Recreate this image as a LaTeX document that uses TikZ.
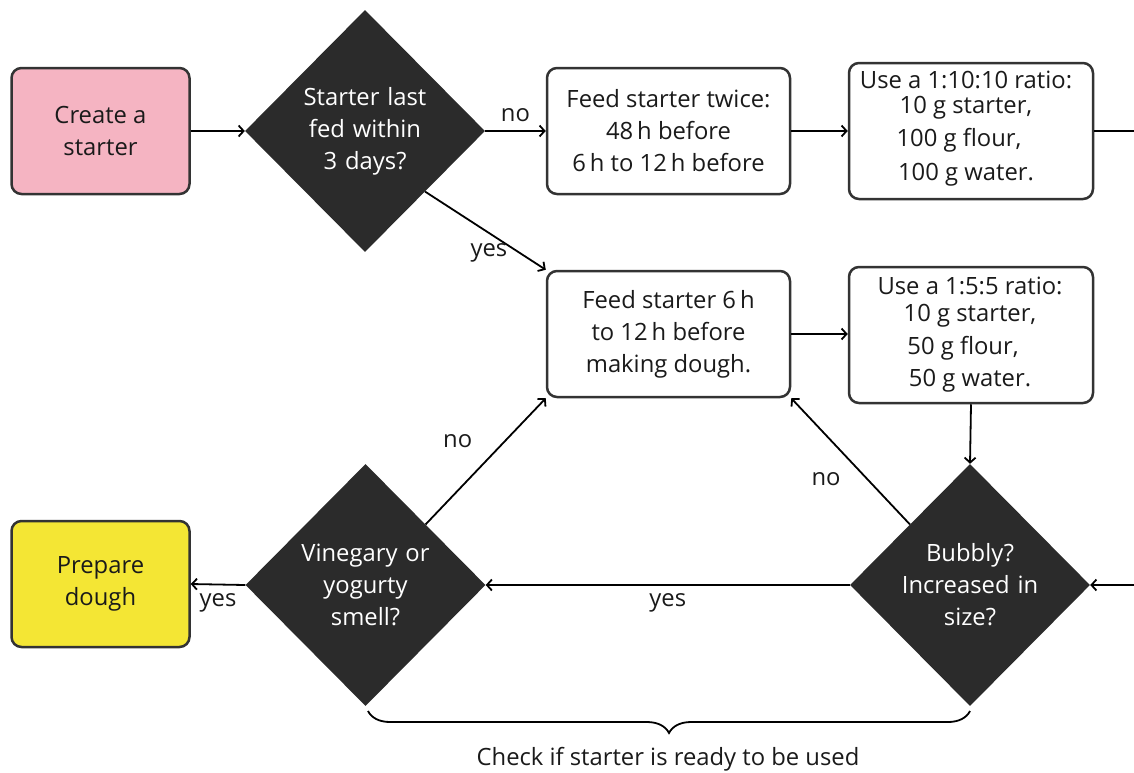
\documentclass[tikz,border=0pt]{standalone}
\usepackage{fontspec}
\setmainfont{Open Sans}
\usetikzlibrary{shapes.geometric,arrows.meta,decorations.pathreplacing}
\definecolor{boxc}{HTML}{333333}
\definecolor{dia}{HTML}{2B2B2B}
\definecolor{pinkc}{HTML}{F5B4C2}
\definecolor{yellc}{HTML}{F4E634}
\definecolor{txt}{HTML}{1A1A1A}
\newcommand\myfs{\fontsize{23.8}{32}\selectfont}
\begin{document}
\begin{tikzpicture}[x=1pt,y=-1pt,
  every node/.style={font=\myfs, text=txt},
  box/.style={draw=boxc, line width=2.5pt, rounded corners=10pt, fill=white,
    align=center, inner sep=0pt, minimum width=243pt, minimum height=126pt},
  sbox/.style={box, minimum width=178pt, minimum height=126pt},
  dec/.style={diamond, fill=dia, text=white, align=center, inner sep=0pt,
    text width=138pt, minimum width=240pt, minimum height=242pt},
  arr/.style={line width=1.8pt, -{Straight Barb[length=5pt,width=11pt]}},
  lab/.style={inner sep=2pt}
]
\useasboundingbox (0,0) rectangle (1134,772);
\clip (0,0) rectangle (1134,772);

\node[sbox, fill=pinkc] (create) at (100.5,131) {Create a\\starter};
\node[dec] (d1) at (365,131) {Starter last\\fed within\\3 days?};
\node[box] (feed2) at (668.5,131) {Feed starter twice:\\48\,h before\\6\,h to 12\,h before};
\node[box, minimum width=244pt, minimum height=136pt] (r10) at (971,131) {};
\node[align=center] (r10t) at (966,128.5) {Use a 1:10:10 ratio:\\[-7pt]10 g starter,\\[1.5pt]100 g flour,\kern14pt\\[1.5pt]100 g water.};

\node[box] (feed6) at (668.5,334) {Feed starter 6\,h\\to 12\,h before\\making dough.};
\node[box, minimum width=244pt, minimum height=136pt] (r5) at (971,335) {};
\node[align=center] (r5t) at (970,334.5) {Use a 1:5:5 ratio:\\[-5pt]10 g starter,\\[1pt]50 g flour,\kern14pt\\[0.5pt]50 g water.};

\node[dec] (dV) at (365.5,585) {Vinegary or\\yogurty\\smell?};
\node[dec] (dB) at (970,585) {Bubbly?\\Increased in\\size?};
\node[sbox, fill=yellc] (prep) at (100.5,584) {Prepare\\dough};

\coordinate (offr) at (1170,0);

\draw[arr] (create.east) -- (d1.west);
\draw[arr] (d1.east) -- node[lab, above=6pt]{no} (feed2.west);
\draw[arr] (d1.south east) -- node[lab, xshift=3.5pt, yshift=-22pt]{yes} (feed6.north west);
\draw[arr] (feed2.east) -- (r10.west);
\draw[arr] (r10.east) -- (r10.east -| offr) |- (dB.east);
\draw[arr] (feed6.east) -- (r5.west |- feed6.east);
\draw[arr] (r5.south) -- (dB.north);
\draw[arr] (dB.north west) -- node[lab, xshift=-24.5pt, yshift=-18pt]{no} (feed6.south east);
\draw[arr] (dB.west) -- node[lab, below=6pt]{yes} (dV.east);
\draw[arr] (dV.north east) -- node[lab, xshift=-28pt, yshift=20.5pt]{no} (feed6.south west);
\draw[arr] (dV.west) -- node[lab, below=6pt]{yes} (prep.east);

\draw[line width=1.8pt, decorate, decoration={brace, mirror, amplitude=22pt}]
  (368,711) -- (970,711);
\node (chk) at (668,759) {Check if starter is ready to be used};
\end{tikzpicture}
\end{document}
